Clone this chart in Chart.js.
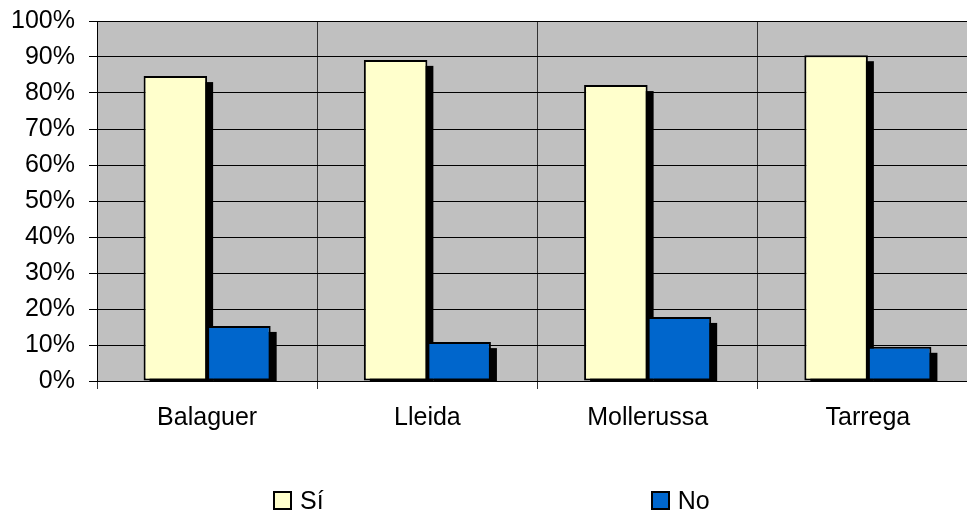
<!DOCTYPE html>
<html>
<head>
<meta charset="utf-8">
<script src="https://cdn.jsdelivr.net/npm/chart.js@4.4.1/dist/chart.umd.min.js"></script>
<style>
  body { margin: 0; background: #fff; overflow: hidden; }
  #wrap { position: relative; width: 967px; height: 517px; overflow: hidden; }
  #legend {
    position: absolute; left: 273px; top: 486px;
    display: flex; gap: 327px;
    font-family: "Liberation Sans", Arial, sans-serif; font-size: 25px; color: #000;
  }
  .item { display: flex; align-items: center; }
  .box { width: 19px; height: 19px; box-sizing: border-box; border: 2px solid #000; margin-right: 8px; }
</style>
</head>
<body>
<div id="wrap">
  <canvas id="chart" width="980" height="517"></canvas>
  <div id="legend"></div>
</div>
<script>
// Data
const towns = ['Balaguer', 'Lleida', 'Mollerussa', 'Tarrega'];
const siValues = [84.7, 89.2, 82.2, 90.5];
const noValues = [15.3, 10.8, 17.8, 9.5];
const seriesNames = ['Sí', 'No'];
const seriesColors = ['#FFFFCC', '#0066CC'];

// grey plot background
const plotBackground = {
    id: 'plotBackground',
    beforeDraw(chart) {
        const { ctx, chartArea: a } = chart;
        ctx.save();
        ctx.fillStyle = '#C0C0C0';
        ctx.fillRect(a.left, a.top, a.right - a.left, a.bottom - a.top);
        ctx.restore();
    }
};

// black drop shadows behind each bar
const barShadows = {
    id: 'barShadows',
    beforeDatasetsDraw(chart) {
        const { ctx, chartArea: a } = chart;
        const off = 6;
        ctx.save();
        ctx.beginPath();
        ctx.rect(a.left, a.top, a.right - a.left, a.bottom - a.top);
        ctx.clip();
        ctx.fillStyle = '#000';
        chart.data.datasets.forEach((ds, i) => {
            chart.getDatasetMeta(i).data.forEach(bar => {
                const left = bar.x - bar.width / 2 + off;
                ctx.fillRect(left, bar.y + off, bar.width, bar.base - bar.y);
            });
        });
        ctx.restore();
    }
};

const ctx = document.getElementById('chart').getContext('2d');
const chart = new Chart(ctx, {
    type: 'bar',
    data: {
        labels: towns,
        datasets: [
            { label: seriesNames[0], data: siValues, backgroundColor: seriesColors[0] },
            { label: seriesNames[1], data: noValues, backgroundColor: seriesColors[1] }
        ]
    },
    options: {
        responsive: false,
        animation: false,
        layout: { padding: { top: 21, right: 2, left: 0, bottom: 0 } },
        datasets: {
            bar: {
                borderColor: '#000',
                borderWidth: 2,
                borderSkipped: false,
                categoryPercentage: 0.577,
                barPercentage: 1.0
            }
        },
        plugins: {
            legend: { display: false },
            tooltip: { enabled: false }
        },
        scales: {
            x: {
                afterFit(scale) { scale.height = 136; },
                grid: { offset: true, color: '#333', lineWidth: 1, tickLength: 8, tickColor: '#333' },
                border: { color: '#000', width: 1 },
                ticks: {
                    color: '#000',
                    padding: 14,
                    font: { family: '"Liberation Sans", Arial', size: 25 }
                }
            },
            y: {
                min: 0,
                max: 100,
                afterFit(scale) {
                    scale.width = 97;
                    scale.paddingTop = 0;
                    scale.paddingBottom = 0;
                },
                grid: { color: '#000', lineWidth: 1, tickLength: 8, tickColor: '#000' },
                border: { color: '#000', width: 1 },
                ticks: {
                    stepSize: 10,
                    color: '#000',
                    padding: 14,
                    font: { family: '"Liberation Sans", Arial', size: 25 },
                    callback: v => v + '%'
                }
            }
        }
    },
    plugins: [plotBackground, barShadows]
});

// legend as html, built from the series
const legend = document.getElementById('legend');
seriesNames.forEach((name, i) => {
    const item = document.createElement('div');
    item.className = 'item';
    const box = document.createElement('span');
    box.className = 'box';
    box.style.background = seriesColors[i];
    const label = document.createElement('span');
    label.textContent = name;
    item.appendChild(box);
    item.appendChild(label);
    legend.appendChild(item);
});
</script>
</body>
</html>
